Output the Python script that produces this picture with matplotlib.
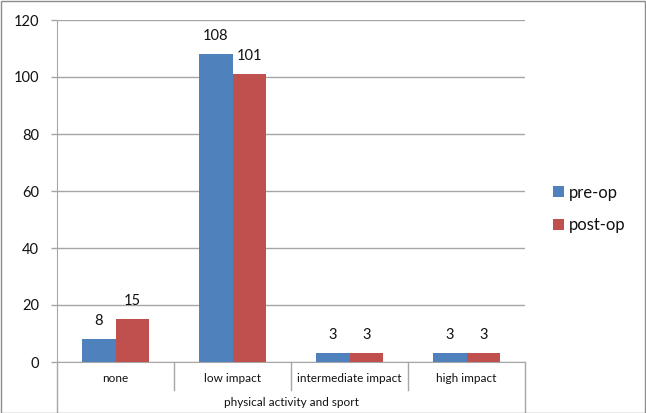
import matplotlib
matplotlib.use('Agg')
import matplotlib.pyplot as plt
import matplotlib.transforms as mtransforms
import numpy as np

# data
categories = ['none', 'low impact', 'intermediate impact', 'high impact']
pre_op = [8, 108, 3, 3]
post_op = [15, 101, 3, 3]
series_names = ['pre-op', 'post-op']
axis_title = 'physical activity and sport'
y_ticks = [0, 20, 40, 60, 80, 100, 120]

blue = '#4F81BD'
red = '#C0504D'
grid_c = '#A6A6A6'
text_c = '#111111'

plt.rcParams['font.family'] = ['Lato', 'DejaVu Sans']

W, H = 646, 413
fig = plt.figure(figsize=(W / 100, H / 100), dpi=100)

# plot area in pixels
left, right, top, bottom = 57, 525, 20, 362
ax = fig.add_axes([left / W, 1 - bottom / H, (right - left) / W, (bottom - top) / H])

x = np.arange(len(categories))
w = 0.29
b1 = ax.bar(x - w / 2, pre_op, w, color=blue, label=series_names[0], zorder=3)
b2 = ax.bar(x + w / 2, post_op, w, color=red, label=series_names[1], zorder=3)

for bars, vals in [(b1, pre_op), (b2, post_op)]:
    for r, v in zip(bars, vals):
        ax.annotate(str(v), (r.get_x() + r.get_width() / 2, v), xytext=(0, 13),
                    textcoords='offset points', ha='center', va='center',
                    fontsize=10.5, color=text_c)

ax.set_xlim(-0.5, len(categories) - 0.5)
ax.set_ylim(0, 120)
ax.set_yticks(y_ticks)
ax.tick_params(axis='y', length=4, width=1, color=grid_c, pad=9, labelsize=10.5, labelcolor=text_c)
ax.set_xticks([])
ax.yaxis.grid(True, color=grid_c, linewidth=1, zorder=0)
for s in ['top', 'right']:
    ax.spines[s].set_visible(False)
ax.spines['left'].set_color(grid_c)
ax.spines['bottom'].set_color(grid_c)
ax.spines['left'].set_zorder(4)

# category separators and labels below the axis
trans = mtransforms.blended_transform_factory(ax.transData, fig.transFigure)
y0 = 1 - bottom / H
y_sep = 1 - 390 / H
for i in range(len(categories) + 1):
    xs = i - 0.5
    ye = 0.0 if i in (0, len(categories)) else y_sep
    ax.plot([xs, xs], [y0, ye], transform=trans, color=grid_c, lw=1, clip_on=False)
for i, c in enumerate(categories):
    fig.text(i, 1 - 379 / H, c, transform=trans, ha='center', va='center',
             fontsize=8.5, color=text_c)
fig.text((len(categories) - 1) / 2, 1 - 403 / H, axis_title, transform=trans,
         ha='center', va='center', fontsize=8.5, color=text_c)

# legend
leg = fig.legend(handles=[b1, b2], labels=series_names, loc='center left',
                 bbox_to_anchor=(538 / W, 1 - 209 / H), frameon=False,
                 fontsize=12, handlelength=0.65, handleheight=0.65,
                 handletextpad=0.3, labelspacing=1.0)
for t in leg.get_texts():
    t.set_color(text_c)

# outer chart border
fig.patches.append(plt.Rectangle((0.5 / W, 0.5 / H), 1 - 1.5 / W, 1 - 1.5 / H,
                                 transform=fig.transFigure, fill=False,
                                 edgecolor='#8c8c8c', lw=1))

fig.savefig('out.png', dpi=100)
